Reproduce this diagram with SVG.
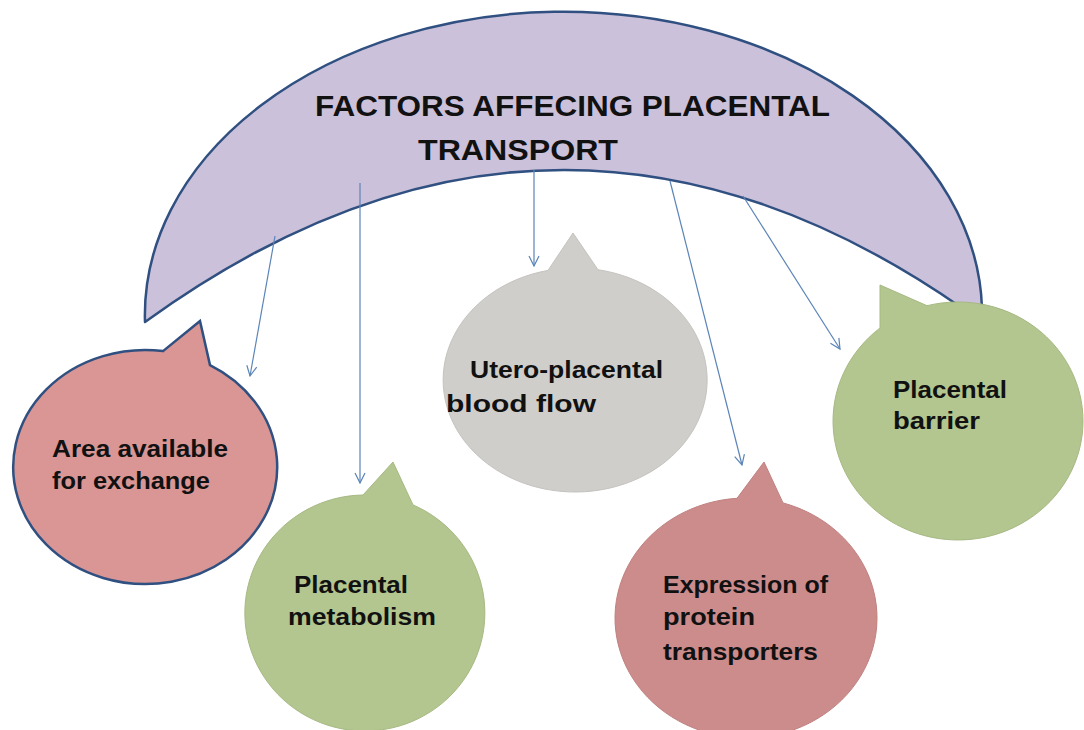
<svg xmlns="http://www.w3.org/2000/svg" width="1084" height="730" viewBox="0 0 1084 730">
  <defs>
    <marker id="arr" viewBox="0 0 12 12" refX="11" refY="6" markerWidth="12" markerHeight="12" markerUnits="userSpaceOnUse" orient="auto">
      <path d="M1,1 L11,6 L1,11" fill="none" stroke="#5b84b8" stroke-width="1.2"/>
    </marker>
  </defs>
  <style>
    .lbl { font-family: "Liberation Sans", Arial, sans-serif; font-weight: bold; font-size: 24px; fill: #111; }
    .title { font-family: "Liberation Sans", Arial, sans-serif; font-weight: bold; font-size: 29px; fill: #111; }
    .link { fill: none; stroke: #5b84b8; stroke-width: 1.2; marker-end: url(#arr); }
    .red { fill: #d99694; stroke: #2f5080; stroke-width: 2.5; }
    .red2 { fill: #cc8c8c; stroke: #c08080; stroke-width: 1; }
    .green { fill: #b3c68f; stroke: #a6b982; stroke-width: 1; }
    .grey { fill: #cfceca; stroke: #c4c3bf; stroke-width: 1; }
  </style>
  <rect width="1084" height="730" fill="#ffffff"/>

  <!-- header arch -->
  <g id="header">
    <path d="M145,322 A418,303 0 0 1 982,308 L962,308 Q555,25 145,322 Z" fill="#ccc1da" stroke="#2f5080" stroke-width="2.5" stroke-linejoin="round"/>
    <text class="title" x="315" y="116" textLength="515" lengthAdjust="spacingAndGlyphs">FACTORS AFFECING PLACENTAL</text>
    <text class="title" x="418" y="160" textLength="200" lengthAdjust="spacingAndGlyphs">TRANSPORT</text>
  </g>

  <!-- connectors -->
  <g id="connectors">
    <line class="link" x1="275" y1="236" x2="250" y2="376"/>
    <line class="link" x1="360" y1="183" x2="360" y2="483"/>
    <line class="link" x1="534" y1="170" x2="534" y2="266"/>
    <line class="link" x1="670" y1="181" x2="742" y2="465"/>
    <line class="link" x1="743" y1="196" x2="840" y2="349"/>
  </g>

  <!-- Area available for exchange: ellipse c(145,467) r(132,117) -->
  <g id="area">
    <path class="red" d="M163,351.1 L200,321 L210,365.1 A132,117 0 1 1 163,351.1 Z" stroke-linejoin="miter"/>
    <text class="lbl" x="52" y="457" textLength="176" lengthAdjust="spacingAndGlyphs">Area available</text>
    <text class="lbl" x="52" y="489" textLength="158" lengthAdjust="spacingAndGlyphs">for exchange</text>
  </g>

  <!-- Placental metabolism: ellipse c(365,613) r(120,118) -->
  <g id="metabolism">
    <path class="green" d="M363,495 L393,462 L413,504.9 A120,118 0 1 1 363,495 Z"/>
    <text class="lbl" x="294" y="593" textLength="114" lengthAdjust="spacingAndGlyphs">Placental</text>
    <text class="lbl" x="288" y="625" textLength="148" lengthAdjust="spacingAndGlyphs">metabolism</text>
  </g>

  <!-- Utero-placental blood flow: ellipse c(575,380) r(132,112) -->
  <g id="bloodflow">
    <path class="grey" d="M548,270.4 L573,233 L598,269.7 A132,112 0 1 1 548,270.4 Z"/>
    <text class="lbl" x="470" y="378" textLength="193" lengthAdjust="spacingAndGlyphs">Utero-placental</text>
    <text class="lbl" x="446" y="412" textLength="150" lengthAdjust="spacingAndGlyphs">blood flow</text>
  </g>

  <!-- Expression of protein transporters: ellipse c(746,618) r(131,120) -->
  <g id="transporters">
    <path class="red2" d="M737,498.3 L764,462 L783,502.9 A131,120 0 1 1 737,498.3 Z"/>
    <text class="lbl" x="663" y="593" textLength="165" lengthAdjust="spacingAndGlyphs">Expression of</text>
    <text class="lbl" x="663" y="625" textLength="92" lengthAdjust="spacingAndGlyphs">protein</text>
    <text class="lbl" x="663" y="660" textLength="155" lengthAdjust="spacingAndGlyphs">transporters</text>
  </g>

  <!-- Placental barrier: ellipse c(958,421) r(125,119) -->
  <g id="barrier">
    <path class="green" d="M880,328 L880,285 L927,305.7 A125,119 0 1 1 880,328 Z"/>
    <text class="lbl" x="893" y="398" textLength="114" lengthAdjust="spacingAndGlyphs">Placental</text>
    <text class="lbl" x="893" y="429" textLength="87" lengthAdjust="spacingAndGlyphs">barrier</text>
  </g>
</svg>
